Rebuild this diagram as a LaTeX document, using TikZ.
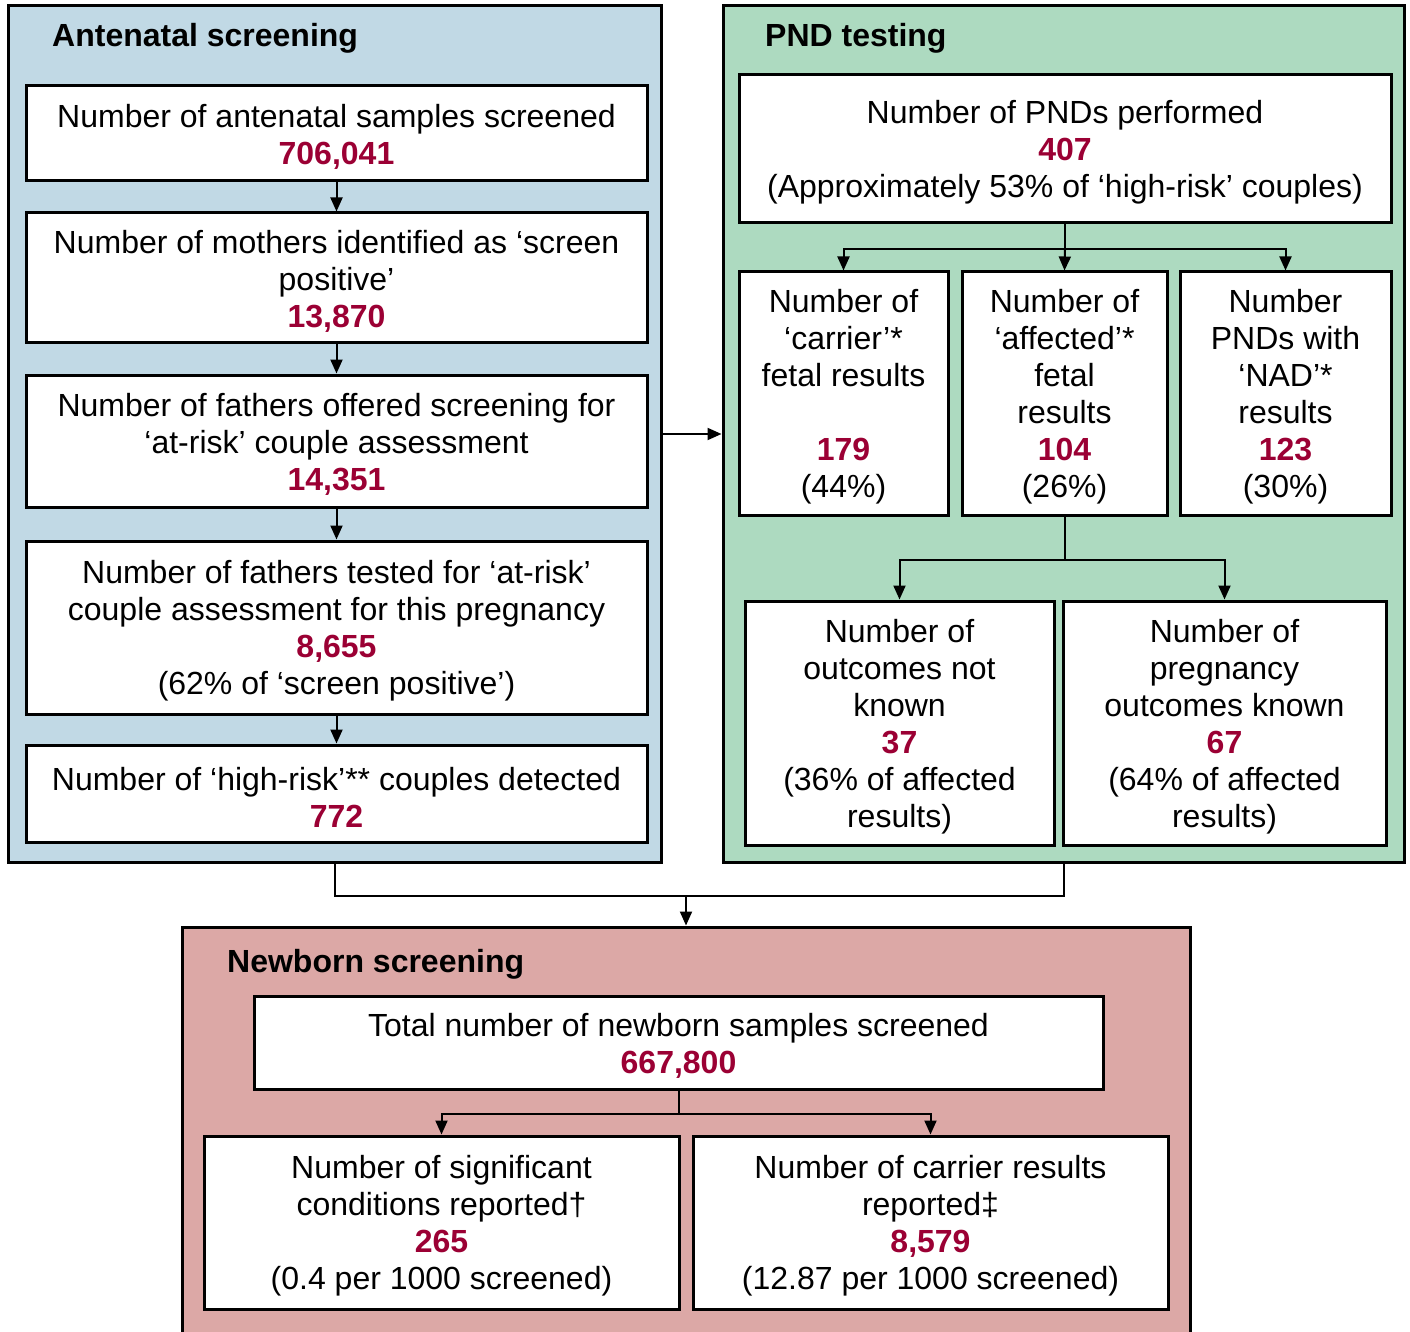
\documentclass[tikz,border=0pt]{standalone}
\usepackage{fontspec}
\setmainfont{Liberation Sans}
\usetikzlibrary{arrows.meta,fit}
\definecolor{bluebg}{RGB}{193,217,229}
\definecolor{greenbg}{RGB}{173,218,192}
\definecolor{pinkbg}{RGB}{220,168,166}
\definecolor{numred}{RGB}{155,0,52}
\newcommand\numr[1]{\textcolor{numred}{\bfseries #1}}
\tikzset{
  panel/.style={draw=black, line width=3pt, inner sep=0pt},
  wbox/.style={draw=black, fill=white, line width=3pt, inner sep=0pt},
  wtext/.style={inner sep=0pt, align=center, font=\fontsize{32}{37}\selectfont},
  ptitle/.style={anchor=base west, font=\bfseries\fontsize{32}{37}\selectfont, inner sep=0pt},
  arr/.style={line width=2pt, -{Triangle[length=14pt,width=12pt]}},
  ln/.style={line width=2pt},
}
\newcommand\boxtext[2]{\node[wtext] (#1t) at ([yshift=-3.5pt]#1.center) {#2};}
\begin{document}
\begin{tikzpicture}[x=1pt,y=-1pt]
\useasboundingbox (0,0) rectangle (1410,1332);
\clip (0,0) rectangle (1410,1332);
% panels
\node[panel, fill=bluebg, fit={(8,6) (661,862)}] (blue) {};
\node[panel, fill=greenbg, fit={(723,6) (1404,862)}] (green) {};
\node[panel, fill=pinkbg, fit={(182,927) (1190,1350)}] (pink) {};
\node[ptitle] (t1) at (52,47) {Antenatal screening};
\node[ptitle] (t2) at (765,47) {PND testing};
\node[ptitle] (t3) at (227,972) {Newborn screening};
% antenatal boxes
\node[wbox, fit={(26,86) (647,181)}] (a1) {};
\node[wbox, fit={(26,213) (647,342)}] (a2) {};
\node[wbox, fit={(26,375) (647,507)}] (a3) {};
\node[wbox, fit={(26,541) (647,714)}] (a4) {};
\node[wbox, fit={(26,745) (647,842)}] (a5) {};
\boxtext{a1}{Number of antenatal samples screened\\\numr{706,041}}
\boxtext{a2}{Number of mothers identified as ‘screen\\positive’\\\numr{13,870}}
\boxtext{a3}{Number of fathers offered screening for\\‘at-risk’ couple assessment\\\numr{14,351}}
\boxtext{a4}{Number of fathers tested for ‘at-risk’\\couple assessment for this pregnancy\\\numr{8,655}\\(62\% of ‘screen positive’)}
\boxtext{a5}{Number of ‘high-risk’** couples detected\\\numr{772}}
\draw[arr] (a1) -- (a2);
\draw[arr] (a2) -- (a3);
\draw[arr] (a3) -- (a4);
\draw[arr] (a4) -- (a5);
% PND boxes
\node[wbox, fit={(739,75) (1391,223)}] (p1) {};
\node[wbox, fit={(739,272) (948,515)}] (p2) {};
\node[wbox, fit={(962,272) (1167,515)}] (p3) {};
\node[wbox, fit={(1180,272) (1391,515)}] (p4) {};
\node[wbox, fit={(745,601) (1054,845)}] (p5) {};
\node[wbox, fit={(1063,601) (1386,845)}] (p6) {};
\boxtext{p1}{Number of PNDs performed\\\numr{407}\\(Approximately 53\% of ‘high-risk’ couples)}
\boxtext{p2}{Number of\\‘carrier’*\\fetal results\\[37pt]\numr{179}\\(44\%)}
\boxtext{p3}{Number of\\‘affected’*\\fetal\\results\\\numr{104}\\(26\%)}
\boxtext{p4}{Number\\PNDs with\\‘NAD’*\\results\\\numr{123}\\(30\%)}
\boxtext{p5}{Number of\\outcomes not\\known\\\numr{37}\\(36\% of affected\\results)}
\boxtext{p6}{Number of\\pregnancy\\outcomes known\\\numr{67}\\(64\% of affected\\results)}
\draw[ln] (p1.south) -- ++(0,25) coordinate (j1);
\draw[arr] (j1) -| (p2.north);
\draw[arr] (j1) -- (p3.north);
\draw[arr] (j1) -| (p4.north);
\draw[ln] (p3.south) -- ++(0,43) coordinate (j2);
\draw[arr] (j2) -| (p5.north);
\draw[arr] (j2) -| (p6.north);
% panel connectors
\coordinate (m1) at (661,434);
\draw[arr] (blue.east |- m1) -- (green.west |- m1);
\draw[ln] (blue.south) -- ++(0,32) coordinate (j3) -| (green.south);
\draw[arr] (j3 -| pink.north) -- (pink.north);
% newborn boxes
\node[wbox, fit={(254,996) (1103,1089)}] (n1) {};
\node[wbox, fit={(204,1136) (679,1309)}] (n2) {};
\node[wbox, fit={(693,1136) (1168,1309)}] (n3) {};
\boxtext{n1}{Total number of newborn samples screened\\\numr{667,800}}
\boxtext{n2}{Number of significant\\conditions reported†\\\numr{265}\\(0.4 per 1000 screened)}
\boxtext{n3}{Number of carrier results\\reported‡\\\numr{8,579}\\(12.87 per 1000 screened)}
\draw[ln] (n1.south) -- ++(0,23) coordinate (j4);
\draw[arr] (j4) -| (n2.north);
\draw[arr] (j4) -| (n3.north);
\end{tikzpicture}
\end{document}
